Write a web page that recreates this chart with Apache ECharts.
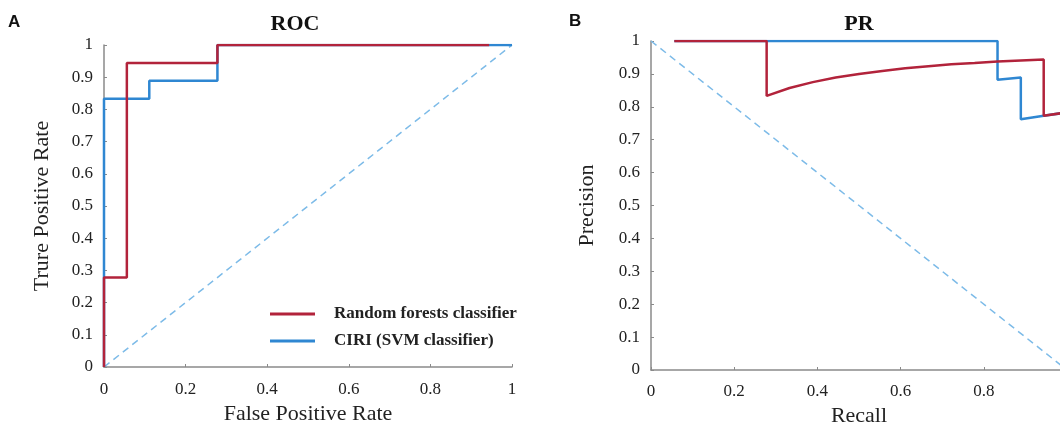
<!DOCTYPE html>
<html>
<head>
<meta charset="utf-8">
<script src="https://cdn.jsdelivr.net/npm/echarts@6/dist/echarts.min.js"></script>
<style>
  html, body { margin: 0; padding: 0; background: #fff; }
  #main { width: 1060px; height: 423px; }
</style>
</head>
<body>
<div id="main"></div>
<script>
// ROC curves (FPR, TPR)
var rocForest = [[0, 0], [0, 0.278], [0.056, 0.278], [0.056, 0.944], [0.278, 0.944], [0.278, 1], [0.944, 1]];
var rocSvm = [[0, 0], [0, 0.833], [0.111, 0.833], [0.111, 0.889], [0.278, 0.889], [0.278, 1], [1, 1]];
var rocChance = [[0, 0], [1, 1]];

// PR curves (recall, precision)
var prForest = [[0.056, 1], [0.278, 1], [0.278, 0.833], [0.333, 0.857], [0.389, 0.875], [0.444, 0.889],
  [0.5, 0.9], [0.556, 0.909], [0.611, 0.917], [0.667, 0.923], [0.722, 0.929], [0.778, 0.933],
  [0.833, 0.938], [0.889, 0.941], [0.944, 0.944], [0.944, 0.773], [1, 0.783]];
var prSvm = [[0.056, 1], [0.833, 1], [0.833, 0.882], [0.889, 0.889], [0.889, 0.762], [0.944, 0.773], [1, 0.783]];
var prChance = [[0, 1], [1, 0]];

var names = ['Random forests classifier', 'CIRI (SVM classifier)'];

var RED = '#b2233b';
var BLUE = '#2f87d2';
var DASH = '#7dbbe8';
var GREY = '#8a8a8a';
var SERIF = "'Liberation Serif', 'Times New Roman', serif";

var myChart = echarts.init(document.getElementById('main'));

function fmt(v) { return String(+v.toFixed(1)); }

function xAx(idx, name, gap, margin) {
  return {
    gridIndex: idx, type: 'value', min: 0, max: 1, interval: 0.2,
    name: name, nameLocation: 'middle', nameGap: gap,
    nameTextStyle: { fontFamily: SERIF, fontSize: 22, color: '#222' },
    axisLine: { lineStyle: { color: GREY, width: 1.5 } },
    axisTick: { inside: true, length: 3, lineStyle: { color: GREY } },
    axisLabel: { fontFamily: SERIF, fontSize: 17, color: '#222', margin: margin, formatter: fmt },
    splitLine: { show: false }
  };
}
function yAx(idx, name, gap) {
  return {
    gridIndex: idx, type: 'value', min: 0, max: 1, interval: 0.1,
    name: name, nameLocation: 'middle', nameGap: gap,
    nameTextStyle: { fontFamily: SERIF, fontSize: 22, color: '#222' },
    axisLine: { show: true, lineStyle: { color: GREY, width: 1.5 } },
    axisTick: { show: true, inside: true, length: 3, lineStyle: { color: GREY } },
    axisLabel: { fontFamily: SERIF, fontSize: 17, color: '#222', margin: 11, formatter: fmt },
    splitLine: { show: false }
  };
}
function curve(name, data, color, xi) {
  return {
    name: name, type: 'line', xAxisIndex: xi, yAxisIndex: xi, data: data,
    showSymbol: false, symbol: 'none', animation: false,
    lineStyle: { color: color, width: 2.5 }, itemStyle: { color: color }
  };
}
function chance(data, xi) {
  return {
    type: 'line', xAxisIndex: xi, yAxisIndex: xi, data: data, symbol: 'none', animation: false,
    lineStyle: { color: DASH, width: 1.5, type: [7, 5] }, silent: true
  };
}

var option = {
  backgroundColor: '#fff',
  animation: false,
  grid: [
    { left: 104, top: 45, width: 408, height: 322, outerBoundsMode: 'none' },
    { left: 651, top: 41, width: 416, height: 329, outerBoundsMode: 'none' }
  ],
  xAxis: [xAx(0, 'False Positive Rate', 31, 14), xAx(1, 'Recall', 28, 13)],
  yAxis: [yAx(0, 'Trure Positive Rate', 51), yAx(1, 'Precision', 53)],
  legend: {
    data: names, orient: 'vertical', left: 265, top: 300,
    icon: 'rect', itemWidth: 45, itemHeight: 3, itemGap: 9,
    textStyle: { fontFamily: SERIF, fontSize: 17, fontWeight: 'bold', color: '#222', lineHeight: 18, padding: [0, 0, 0, 14] }
  },
  graphic: [
    { type: 'text', left: 8, top: 14, style: { text: 'A', font: 'bold 17px "Liberation Sans", Arial, sans-serif', fill: '#111' } },
    { type: 'text', left: 569, top: 13, style: { text: 'B', font: 'bold 17px "Liberation Sans", Arial, sans-serif', fill: '#111' } },
    { type: 'text', x: 295, y: 24, style: { text: 'ROC', font: 'bold 22px ' + SERIF, fill: '#111', align: 'center', verticalAlign: 'middle' } },
    { type: 'text', x: 859, y: 24, style: { text: 'PR', font: 'bold 22px ' + SERIF, fill: '#111', align: 'center', verticalAlign: 'middle' } }
  ],
  series: [
    chance(rocChance, 0),
    curve(names[1], rocSvm, BLUE, 0),
    curve(names[0], rocForest, RED, 0),
    chance(prChance, 1),
    curve(names[1], prSvm, BLUE, 1),
    curve(names[0], prForest, RED, 1)
  ]
};

myChart.setOption(option);
</script>
</body>
</html>
